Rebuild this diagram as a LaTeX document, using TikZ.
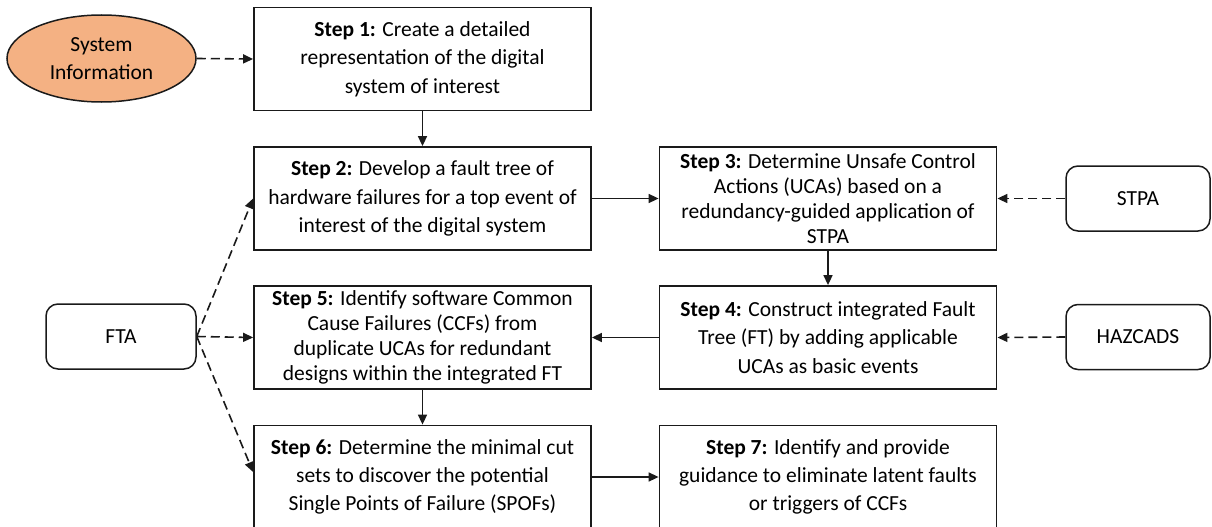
\documentclass[tikz,border=0pt]{standalone}
\usepackage{fontspec}
\setmainfont{Carlito}
\usetikzlibrary{arrows.meta,shapes.geometric}

\definecolor{infofill}{HTML}{F4B183}
\definecolor{edge}{HTML}{1A1A1A}

\begin{document}
\begin{tikzpicture}[x=1pt,y=-1pt,
  txt/.style={font=\fontsize{21.5}{28.3}\selectfont, text=black},
  fourline/.style={font=\fontsize{21.5}{25.2}\selectfont},
  stepbox/.style={txt, draw=edge, line width=1.8pt, minimum width=337pt,
    minimum height=103pt, align=center, inner sep=0pt},
  toolbox/.style={txt, draw=edge, line width=1.5pt, rounded corners=12pt,
    minimum height=65pt, inner sep=0pt},
  flow/.style={draw=edge, line width=1.6pt, -{Triangle[length=10pt,width=9pt]}},
  dflow/.style={flow, dash pattern=on 9pt off 5pt},
]
\useasboundingbox (0,0) rectangle (1212,527);

% input sources
\node[txt, ellipse, draw=edge, line width=1.5pt, fill=infofill,
  minimum width=189pt, minimum height=87pt, inner sep=0pt, align=center]
  (info) at (101.5,58.5) {System\\Information};
\node[toolbox, minimum width=150pt] (fta) at (121,336.5) {FTA};
\node[toolbox, minimum width=144pt] (stpa) at (1138,198.5) {STPA};
\node[toolbox, minimum width=144pt] (haz) at (1138,337) {HAZCADS};

% method steps
\node[stepbox] (s1) at (422.5,59) {\textbf{Step 1:} Create a detailed\\representation of the digital\\system of interest};
\node[stepbox] (s2) at (422.5,198.5) {\textbf{Step 2:} Develop a fault tree of\\hardware failures for a top event of\\interest of the digital system};
\node[stepbox, fourline] (s3) at (828,198.5) {\textbf{Step 3:} Determine Unsafe Control\\Actions (UCAs) based on a\\redundancy-guided application of\\STPA};
\node[stepbox] (s4) at (828,337.5) {\textbf{Step 4:} Construct integrated Fault\\Tree (FT) by adding applicable\\UCAs as basic events};
\node[stepbox, fourline] (s5) at (422.5,337.5) {\textbf{Step 5:} Identify software Common\\Cause Failures (CCFs) from\\duplicate UCAs for redundant\\designs within the integrated FT};
\node[stepbox] (s6) at (422.5,477) {\textbf{Step 6:} Determine the minimal cut\\sets to discover the potential\\Single Points of Failure (SPOFs)};
\node[stepbox] (s7) at (828,477) {\textbf{Step 7:} Identify and provide\\guidance to eliminate latent faults\\or triggers of CCFs};

% main flow
\draw[flow] (s1) -- (s2);
\draw[flow] (s2) -- (s3);
\draw[flow] (s3) -- (s4);
\draw[flow] (s4) -- (s5);
\draw[flow] (s5) -- (s6);
\draw[flow] (s6) -- (s7);

% supporting inputs
\draw[dflow] (info.east) -- (s1.west);
\draw[dflow] (stpa.west) -- (s3.east);
\draw[dflow] (haz.west) -- (s4.east);
\draw[dflow] (fta.east) -- (s2.west);
\draw[dflow] (fta.east) -- (s5.west);
\draw[dflow] (fta.east) -- ([yshift=5pt]s6.west);
\end{tikzpicture}
\end{document}
